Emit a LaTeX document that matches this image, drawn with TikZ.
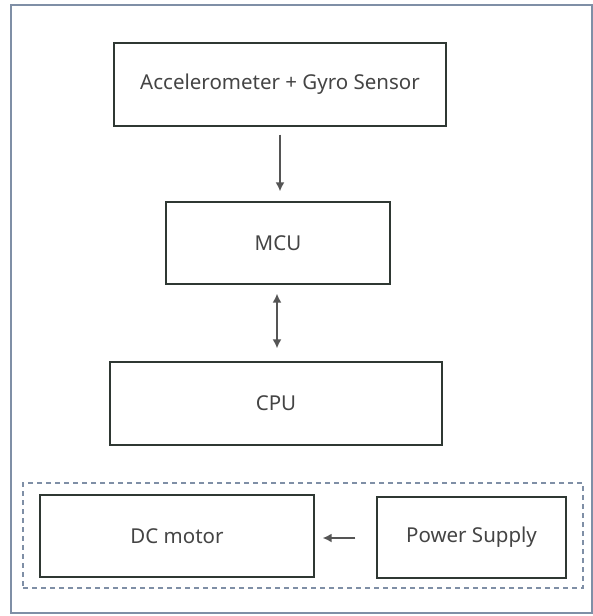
\documentclass[tikz,border=0pt]{standalone}
\usepackage{fontspec}
\setmainfont{Noto Sans}
\usetikzlibrary{arrows.meta}
\definecolor{boxline}{HTML}{2F3833}
\definecolor{txt}{HTML}{444444}
\definecolor{frameblue}{HTML}{7F8FA6}
\definecolor{arrowgrey}{HTML}{555555}
\tikzset{
  blockbox/.style={draw=boxline, line width=1.2pt, inner sep=0pt, font=\fontsize{20.5}{24}\selectfont, text=txt},
  flowarrow/.style={draw=arrowgrey, line width=1.8pt, -{Latex[length=9pt,width=9pt]}},
  biarrow/.style={draw=arrowgrey, line width=1.8pt, {Latex[length=9pt,width=9pt]}-{Latex[length=9pt,width=9pt]}},
  groupbox/.style={draw=frameblue, line width=1.1pt, dash pattern=on 5pt off 4pt, inner sep=0pt},
}
\begin{document}
\begin{tikzpicture}[x=1pt, y=-1pt]
\useasboundingbox (0,0) rectangle (593,616);
\fill[white] (0,0) rectangle (593,616);
\draw[frameblue, line width=1.2pt] (11,5) rectangle (592,613);
\node[groupbox, minimum width=560pt, minimum height=105pt] (grp) at (303,535.5) {};
\node[blockbox, minimum width=332pt, minimum height=83pt] (sensor) at (280,84.5) {Accelerometer + Gyro Sensor};
\node[blockbox, minimum width=224pt, minimum height=82pt] (mcu) at (278,243) {MCU};
\node[blockbox, minimum width=332pt, minimum height=83pt] (cpu) at (276,403.5) {CPU};
\node[blockbox, minimum width=274pt, minimum height=82pt] (dc) at (177,536) {DC motor};
\node[blockbox, minimum width=189pt, minimum height=81pt] (ps) at (471.5,537.5) {Power Supply};
\draw[flowarrow, shorten <=8pt, shorten >=10pt] (sensor.south) -- (sensor.south |- mcu.north);
\draw[biarrow, shorten <=9pt, shorten >=13pt] (mcu.south -| 277,0) -- (cpu.north -| 277,0);
\draw[flowarrow, shorten <=21pt, shorten >=8pt] (ps.west |- 0,538) -- (dc.east |- 0,538);
\end{tikzpicture}
\end{document}
